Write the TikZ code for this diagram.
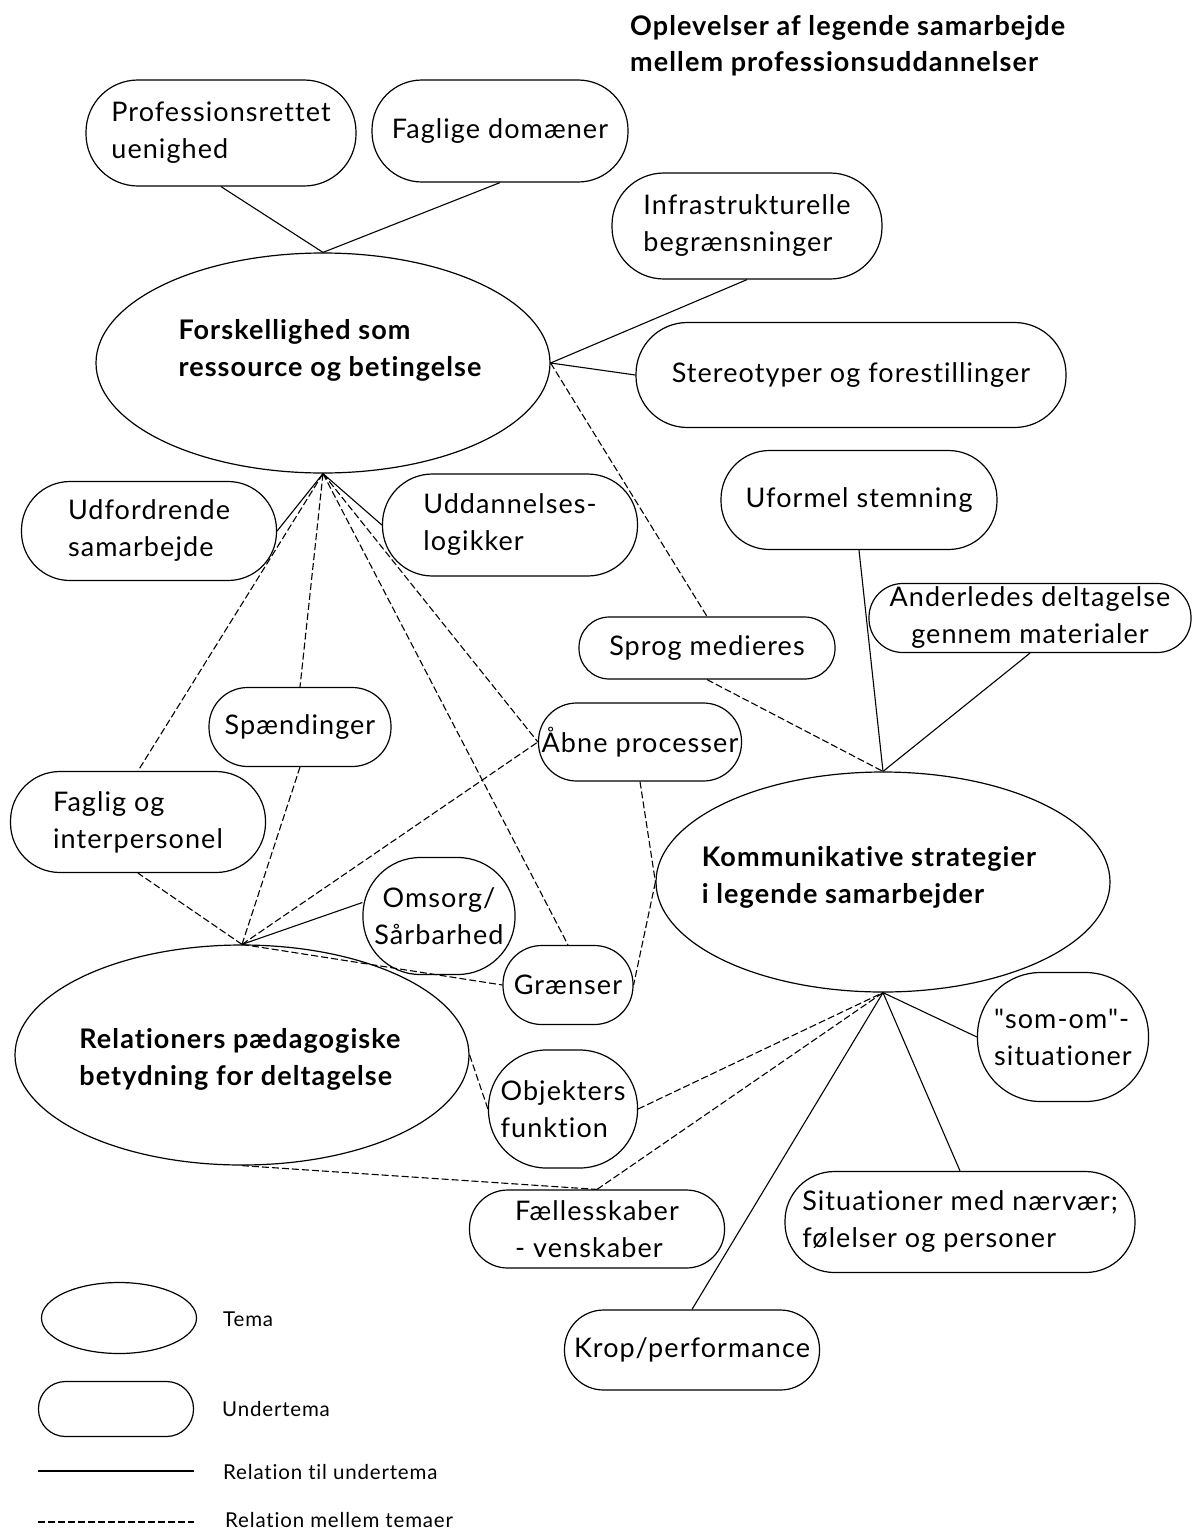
\documentclass[tikz,border=0pt]{standalone}
\usepackage{fontspec}
\setmainfont[Ligatures={TeXOff,NoCommon}, LetterSpace=4]{Lato}
\usetikzlibrary{shapes.geometric,calc}

\newcommand{\subfont}{\fontsize{27}{37}\selectfont}
\newcommand{\themefont}{\fontsize{27}{37}\selectfont\bfseries}
\newcommand{\titlefont}{\fontsize{27}{36}\selectfont\bfseries}
\newcommand{\legendfont}{\fontsize{20.5}{24}\selectfont}

\tikzset{
  outline/.style={line width=1.2pt},
  theme/.style={outline, draw, ellipse, inner sep=0pt,
    minimum width=454, minimum height=220},
  themetext/.style={font=\themefont, align=left, inner sep=0pt},
  % sub-theme: pill with fully rounded ends; args = width, height
  sub/.style n args={2}{outline, draw, rectangle, inner sep=0pt,
    minimum width=#1, minimum height=#2, rounded corners=0.49*#2,
    font=\subfont, align=left},
  subc/.style n args={2}{sub={#1}{#2}, align=center},
  tosub/.style={line width=1.1pt},
  totheme/.style={line width=1.1pt, dash pattern=on 7pt off 3pt},
  legendtext/.style={font=\legendfont, anchor=west, inner sep=0pt},
}

\begin{document}
\begin{tikzpicture}[x=1pt,y=-1pt]
\useasboundingbox (0,0) rectangle (1192,1531);

% title
\node[font=\titlefont, align=left, anchor=west, inner sep=0pt] (title) at (630,46)
  {Oplevelser af legende samarbejde\\mellem professionsuddannelser};

% themes
\node[theme] (F) at (323,363) {};
\node[themetext] (Ft) at (330,350) {Forskellighed som\\ressource og betingelse};
\node[theme] (K) at (883,882) {};
\node[themetext] (Kt) at (869,877) {Kommunikative strategier\\i legende samarbejder};
\node[theme] (R) at (242,1055) {};
\node[themetext] (Rt) at (240,1059) {Relationers pædagogiske\\betydning for deltagelse};

% sub-themes
\node[sub={270}{106}] (prof) at (221,133) {Professionsrettet\\uenighed};
\node[sub={256}{102}] (fagdom) at (500,131) {Faglige domæner};
\node[sub={270}{106}] (infra) at (747,226) {Infrastrukturelle\\begrænsninger};
\node[sub={430}{105}] (stereo) at (851,375) {Stereotyper og forestillinger};
\node[sub={255}{99}] (udf) at (149,531) {Udfordrende\\samarbejde};
\node[sub={255}{102}] (udd) at (510,525) {Uddannelses-\\logikker};
\node[sub={276}{99}] (uform) at (859,500) {Uformel stemning};
\node[subc={322}{69}] (anders) at (1030,618) {Anderledes deltagelse\\gennem materialer};
\node[sub={256}{62}] (sprog) at (707,648) {Sprog medieres};
\node[sub={182}{79}] (spaend) at (300,727) {Spændinger};
\node[sub={203}{78}] (aabne) at (640,742) {Åbne processer};
\node[sub={255}{101}] (faglig) at (138,822) {Faglig og\\interpersonel};
\node[subc={152}{117}] (omsorg) at (439,916) {Omsorg/\\Sårbarhed};
\node[sub={130}{79}] (graens) at (568,985) {Grænser};
\node[sub={171}{129}] (somom) at (1063,1037) {"som-om"-\\situationer};
\node[sub={149}{118}] (objekt) at (563,1109) {Objekters\\funktion};
\node[sub={255}{78}] (faelles) at (597,1229) {Fællesskaber\\- venskaber};
\node[sub={350}{101}] (situ) at (960,1222) {Situationer med nærvær;\\følelser og personer};
\node[sub={255}{80}] (krop) at (692,1350) {Krop/performance};

% relations to sub-themes
\draw[tosub] (F.north) -- (prof.south);
\draw[tosub] (F.north) -- (fagdom.south);
\draw[tosub] (F.east) -- (infra.south);
\draw[tosub] (F.east) -- (stereo.west);
\draw[tosub] (F.south) -- (udf.east);
\draw[tosub] (F.south) -- (udd.west);
\draw[tosub] (R.north) -- (omsorg.170);
\draw[tosub] (K.north) -- (uform.south);
\draw[tosub] (K.north) -- (anders.south);
\draw[tosub] (K.south) -- (somom.west);
\draw[tosub] (K.south) -- (situ.north);
\draw[tosub] (K.south) -- (krop.north);

% relations between themes
\draw[totheme] (F.east) -- (sprog.north);
\draw[totheme] (sprog.south) -- (K.north);
\draw[totheme] (F.south) -- (faglig.north);
\draw[totheme] (F.south) -- (spaend.north);
\draw[totheme] (F.south) -- (aabne.west);
\draw[totheme] (F.south) -- (graens.north);
\draw[totheme] (R.north) -- (faglig.south);
\draw[totheme] (R.north) -- (spaend.south);
\draw[totheme] (R.north) -- (aabne.west);
\draw[totheme] (R.north) -- (graens.west);
\draw[totheme] (aabne.south) -- (K.west);
\draw[totheme] (K.west) -- (graens.east);
\draw[totheme] (R.east) -- (objekt.west);
\draw[totheme] (objekt.east) -- (K.south);
\draw[totheme] (R.south) -- (faelles.north);
\draw[totheme] (faelles.north) -- (K.south);

% legend
\node[theme, minimum width=155, minimum height=71] (lgtheme) at (119,1318) {};
\node[legendtext] (lgthemet) at (223,1319) {Tema};
\node[sub={155}{55}] (lgsub) at (116,1409) {};
\node[legendtext] (lgsubt) at (222,1409) {Undertema};
\coordinate (lgs1) at (38,1471);
\coordinate (lgs2) at (194,1471);
\draw[tosub] (lgs1) -- (lgs2);
\node[legendtext] (lgsolidt) at (223,1472) {Relation til undertema};
\coordinate (lgd1) at (38,1522);
\coordinate (lgd2) at (194,1522);
\draw[totheme] (lgd1) -- (lgd2);
\node[legendtext] (lgdasht) at (225,1520) {Relation mellem temaer};
\end{tikzpicture}
\end{document}
